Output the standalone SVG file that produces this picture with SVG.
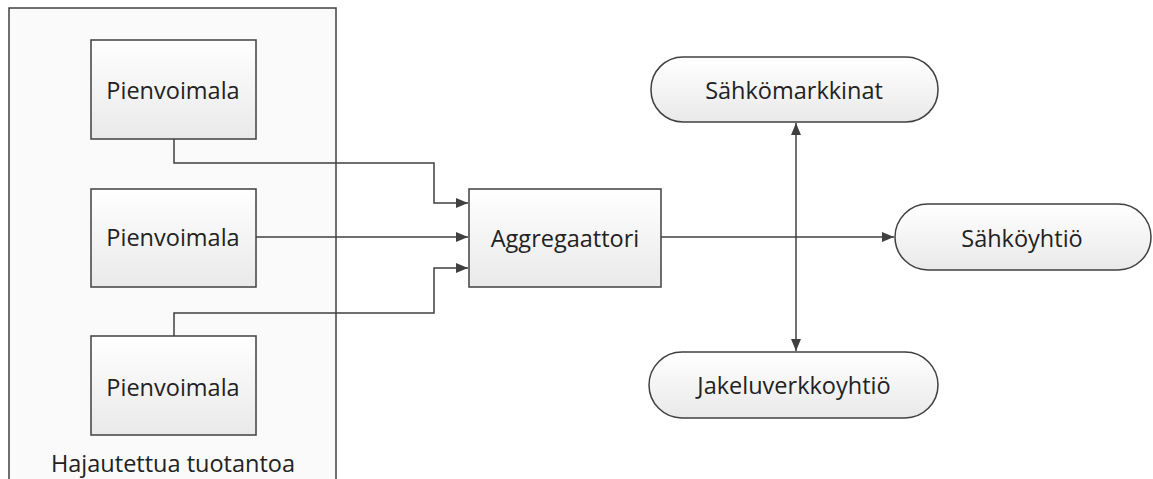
<svg xmlns="http://www.w3.org/2000/svg" width="1153" height="479" viewBox="0 0 1153 479">
<style>
.box{fill:url(#g);stroke:#404040;stroke-width:1.5}
.pill{fill:url(#g);stroke:#404040;stroke-width:1.5}
.t{font-family:"Open Sans","Liberation Sans",sans-serif;font-size:23.5px;fill:#222;text-anchor:middle;dominant-baseline:central}
.c{fill:none;stroke:#404040;stroke-width:1.5}
</style>
<defs>
<linearGradient id="g" x1="0" y1="0" x2="0" y2="1">
<stop offset="0" stop-color="#ffffff"/>
<stop offset="1" stop-color="#e9e9e9"/>
</linearGradient>
<marker id="a" viewBox="0 0 12 10" refX="12" refY="5" markerWidth="12" markerHeight="10" markerUnits="userSpaceOnUse" orient="auto-start-reverse">
<path d="M0,0 L12,5 L0,10 Z" fill="#404040"/>
</marker>
</defs>
<rect width="1153" height="479" fill="#ffffff"/>
<g id="container">
<rect x="9" y="8" width="327" height="480" fill="#fafafa" stroke="#404040" stroke-width="1.5"/>
<text class="t" x="173" y="463">Hajautettua tuotantoa</text>
</g>
<g id="connectors">
<path class="c" d="M174,139 V163 H434 V203 H468" marker-end="url(#a)"/>
<path class="c" d="M256,237 H468" marker-end="url(#a)"/>
<path class="c" d="M174,336 V313 H434 V268 H468" marker-end="url(#a)"/>
<path class="c" d="M661,237 H894" marker-end="url(#a)"/>
<path class="c" d="M796,123 V351" marker-start="url(#a)" marker-end="url(#a)"/>
</g>
<g id="p1"><rect class="box" x="91" y="40" width="165" height="99"/><text class="t" x="173" y="90">Pienvoimala</text></g>
<g id="p2"><rect class="box" x="91" y="189" width="165" height="98"/><text class="t" x="173" y="237">Pienvoimala</text></g>
<g id="p3"><rect class="box" x="91" y="336" width="165" height="99"/><text class="t" x="173" y="387">Pienvoimala</text></g>
<g id="agg"><rect class="box" x="469" y="189" width="192" height="98"/><text class="t" x="565" y="238">Aggregaattori</text></g>
<g id="markkinat"><rect class="pill" x="651" y="57" width="287" height="65" rx="32" ry="32"/><text class="t" x="794" y="90">Sähkömarkkinat</text></g>
<g id="yhtio"><rect class="pill" x="895" y="204" width="256" height="66" rx="33" ry="33"/><text class="t" x="1022" y="238">Sähköyhtiö</text></g>
<g id="jakelu"><rect class="pill" x="649" y="352" width="289" height="66" rx="33" ry="33"/><text class="t" x="794" y="385">Jakeluverkkoyhtiö</text></g>
</svg>
